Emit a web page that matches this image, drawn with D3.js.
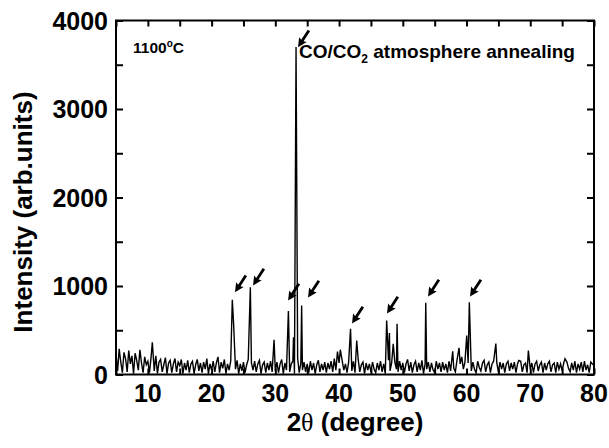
<!DOCTYPE html>
<html>
<head>
<meta charset="UTF-8">
<script src="https://d3js.org/d3.v7.min.js"></script>
<style>
  body { margin: 0; background: #fff; }
  svg { display: block; font-family: "Liberation Sans", Arial, sans-serif; }
</style>
</head>
<body>
<div id="chart"></div>
<script>
// baseline noise, one value every 0.25 deg from 5 to 80
const startAngle = 5, stepAngle = 0.25;
const noise = [
  230, 40, 290, 140, 20, 250, 180, 30, 270, 120, 210, 10, 240, 160, 50, 280, 130, 20, 200, 110,
  150, 20, 190, 120, 40, 210, 10, 140, 170, 30, 110, 190, 10, 130, 160, 20, 120, 180, 30, 140,
  100, 170, 10, 130, 50, 160, 20, 120, 150, 10, 110, 170, 40, 130, 20, 140, 60, 180, 10, 120,
  50, 150, 30, 130, 200, 20, 140, 70, 170, 10, 120, 50, 150, 20, 130, 60, 160, 10, 120, 40,
  140, 20, 110, 170, 10, 130, 50, 150, 30, 120, 160, 10, 110, 140, 20, 130, 50, 150, 30, 120,
  40, 140, 20, 120, 170, 10, 130, 50, 160, 30, 120, 150, 10, 110, 180, 20, 130, 50, 140, 30,
  120, 20, 150, 50, 130, 10, 110, 160, 30, 120, 50, 140, 20, 130, 60, 150, 30, 180, 50, 200,
  130, 30, 150, 50, 120, 20, 140, 70, 40, 150, 20, 120, 170, 30, 110, 140, 10, 130, 50, 120,
  30, 140, 60, 20, 130, 50, 150, 30, 120, 10, 110, 160, 40, 130, 20, 140, 60, 30, 150, 50,
  130, 20, 120, 170, 40, 140, 20, 110, 150, 30, 130, 50, 160, 10, 120, 60, 140, 30, 130, 50,
  20, 150, 60, 130, 30, 140, 50, 120, 20, 150, 40, 130, 70, 30, 160, 50, 120, 200, 60, 140,
  50, 130, 170, 40, 140, 60, 20, 150, 80, 40, 130, 160, 30, 110, 140, 20, 120, 150, 50, 130,
  30, 140, 60, 130, 20, 120, 150, 40, 130, 60, 140, 20, 120, 50, 150, 30, 110, 130, 20, 140,
  60, 130, 20, 120, 150, 40, 110, 140, 20, 130, 50, 120, 150, 30, 110, 130, 20, 140, 60, 120,
  40, 130, 20, 140, 70, 30, 130, 50, 150, 20, 120, 60, 140, 30, 130, 50, 110, 20, 140, 120,
  100
];
// diffraction peaks [2theta, intensity]
const peaks = [
  [10.7, 365], [23.25, 844], [23.45, 576], [26.08, 987], [29.8, 392],
  [32.05, 716], [32.85, 420], [33.25, 3700], [34.13, 780], [39.75, 260],
  [40.2, 280], [41.8, 516], [42.77, 384], [47.47, 610], [47.9, 470],
  [48.5, 346], [49.1, 572], [53.6, 810], [57.83, 263], [58.82, 301],
  [60.03, 440], [60.44, 817], [64.6, 350], [68.2, 158], [69.7, 271],
  [75.45, 177], [78.5, 150]
];
// arrow tips [2theta, intensity]
const arrows = [
  [23.67, 930], [26.5, 1006], [32.0, 836], [35.13, 870], [33.56, 3698],
  [42.03, 576], [47.52, 689], [53.96, 881], [60.55, 881]
];
const xTicks = [10, 20, 30, 40, 50, 60, 70, 80];
const yTicks = [0, 1000, 2000, 3000, 4000];

const width = 609, height = 448;
const margin = { left: 116, right: 15, top: 20.5, bottom: 73.5 };

const svg = d3.select("#chart").append("svg")
  .attr("width", width).attr("height", height);

const x = d3.scaleLinear().domain([5, 80]).range([margin.left, width - margin.right]);
const y = d3.scaleLinear().domain([0, 4000]).range([height - margin.bottom, margin.top]);

// build series: noise points, minus those too close to a peak, plus peaks
let pts = noise.map((v, i) => [startAngle + i * stepAngle, v]);
pts = pts.filter(p => !peaks.some(q => Math.abs(q[0] - p[0]) < 0.1));
pts = pts.concat(peaks).sort((a, b) => a[0] - b[0]);

const line = d3.line().x(d => x(d[0])).y(d => y(d[1]));

svg.append("defs").append("clipPath").attr("id", "clip")
  .append("rect")
  .attr("x", x(5)).attr("y", y(4000))
  .attr("width", x(80) - x(5)).attr("height", y(0) - y(4000));

svg.append("path")
  .datum(pts)
  .attr("clip-path", "url(#clip)")
  .attr("fill", "none")
  .attr("stroke", "#000")
  .attr("stroke-width", 1.4)
  .attr("stroke-linejoin", "miter")
  .attr("d", line);

// axes, ticks pointing in
const xMinor = d3.range(5, 81, 5);
const yMinor = d3.range(0, 4001, 500);

const axBottom = svg.append("g").attr("transform", `translate(0,${y(0)})`)
  .call(d3.axisBottom(x).tickValues(xMinor).tickSize(-6).tickFormat(""));
const axTop = svg.append("g").attr("transform", `translate(0,${y(4000)})`)
  .call(d3.axisTop(x).tickValues(xMinor).tickSize(-6).tickFormat(""));
const axLeft = svg.append("g").attr("transform", `translate(${x(5)},0)`)
  .call(d3.axisLeft(y).tickValues(yMinor).tickSize(-7).tickFormat(""));
const axRight = svg.append("g").attr("transform", `translate(${x(80)},0)`)
  .call(d3.axisRight(y).tickValues(yMinor).tickSize(-7).tickFormat(""));

[axBottom, axTop, axLeft, axRight].forEach(g => {
  g.select(".domain").remove();
  g.selectAll(".tick line").attr("stroke", "#000").attr("stroke-width", 2);
});

svg.append("rect")
  .attr("x", x(5)).attr("y", y(4000))
  .attr("width", x(80) - x(5)).attr("height", y(0) - y(4000))
  .attr("fill", "none").attr("stroke", "#000").attr("stroke-width", 2);

// tick labels
svg.append("g").selectAll("text").data(xTicks).join("text")
  .attr("x", d => x(d)).attr("y", 402)
  .attr("text-anchor", "middle")
  .attr("font-size", 25).attr("font-weight", "bold")
  .text(d => d);

svg.append("g").selectAll("text").data(yTicks).join("text")
  .attr("x", 108).attr("y", d => y(d) + 9)
  .attr("text-anchor", "end")
  .attr("font-size", 25).attr("font-weight", "bold")
  .text(d => d);

// axis titles
const xt = svg.append("text")
  .attr("x", 355).attr("y", 431)
  .attr("text-anchor", "middle")
  .attr("font-size", 26).attr("font-weight", "bold");
xt.append("tspan").text("2");
xt.append("tspan").attr("font-family", "'Liberation Serif', serif").attr("font-weight", "normal").text("θ");
xt.append("tspan").text(" (degree)");

svg.append("text")
  .attr("transform", "translate(32,212) rotate(-90)")
  .attr("text-anchor", "middle")
  .attr("font-size", 26).attr("font-weight", "bold")
  .text("Intensity (arb.units)");

// annotations
const t1 = svg.append("text").attr("x", 133).attr("y", 53)
  .attr("font-size", 15.5).attr("font-weight", "bold");
t1.append("tspan").text("1100");
t1.append("tspan").attr("font-size", 10).attr("dy", -6).text("o");
t1.append("tspan").attr("dy", 6).text("C");

const t2 = svg.append("text").attr("x", 299).attr("y", 58)
  .attr("font-size", 19).attr("font-weight", "bold");
t2.append("tspan").text("CO/CO");
t2.append("tspan").attr("font-size", 12).attr("dy", 5).text("2");
t2.append("tspan").attr("dy", -5).text(" atmosphere annealing");

// arrows pointing down-left at the peaks
const ang = Math.atan2(17, -11) * 180 / Math.PI;
svg.append("g").selectAll("path").data(arrows).join("path")
  .attr("transform", d => `translate(${x(d[0])},${y(d[1])}) rotate(${ang})`)
  .attr("fill", "#000")
  .attr("d", "M0,0 L-9,-4.5 L-8,-1.4 L-20,-1.4 L-20,1.4 L-8,1.4 L-9,4.5 Z");
</script>
</body>
</html>
